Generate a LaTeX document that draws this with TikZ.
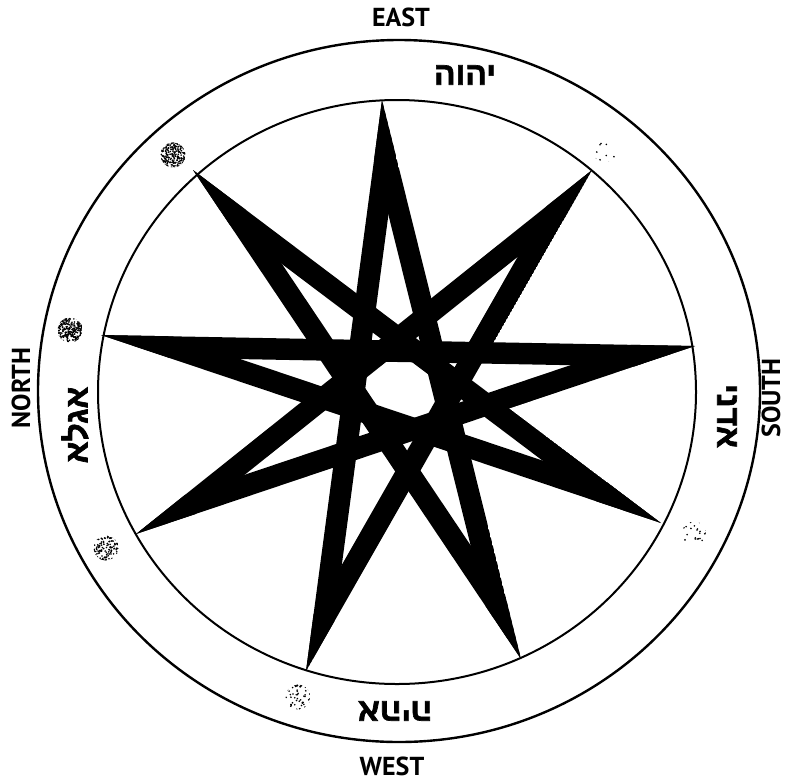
\documentclass[tikz,border=0pt]{standalone}
\usepackage{fontspec}
\setmainfont{PT Sans}
\newfontfamily\hebfont[Script=Hebrew,FakeBold=2]{Liberation Sans Bold}
\TeXXeTstate=1
\usetikzlibrary{calc}
\begin{document}
\begin{tikzpicture}[x=1pt,y=-1pt,
  lab/.style={font=\bfseries\fontsize{26}{26}\selectfont, inner sep=0pt},
  heb/.style={font=\hebfont\fontsize{32}{32}\selectfont, inner sep=0pt},
  ring/.style={draw=black, line width=2.4pt},
  band/.style={fill=black}]
\useasboundingbox (0,0) rectangle (786,782);
% star points
\coordinate (p0) at (382,100);
\coordinate (p1) at (592,170);
\coordinate (p2) at (695,346);
\coordinate (p3) at (661,523);
\coordinate (p4) at (521,659);
\coordinate (p5) at (306,671);
\coordinate (p6) at (136,534);
\coordinate (p7) at (101,335);
\coordinate (p8) at (193,170);
% rings
\draw[ring] (399,391) ellipse [x radius=361pt, y radius=351pt];
\draw[ring, line width=2pt] (397,392) ellipse [x radius=299pt, y radius=292pt];
% star bands
\begin{scope}
  \clip (p0) -- (p4) -- (p8) -- (p3) -- (p7) -- (p2) -- (p6) -- (p1) -- (p5) -- cycle;
  \foreach \a/\b in {0/4,1/5,2/6,3/7,4/8,5/0,6/1,7/2,8/3}{
    \fill[band] (p\a) -- (p\b) -- ($(p\b)!21.5pt!90:(p\a)$) -- ($(p\a)!21.5pt!-90:(p\b)$) -- cycle;
  }
\end{scope}
% speckled dots
\pgfmathsetseed{7}
\foreach \cx/\cy/\n in {173/155/260, 70/330/260, 106/548/130, 298/697/60, 694/534/24, 605/150/9}{
  \begin{scope}
    \clip (\cx,\cy) circle (12.5pt);
    \foreach \k in {1,...,\n}{
      \fill[black] ($(\cx,\cy)+(rand*12.5,rand*12.5)$) circle (0.9pt);
    }
  \end{scope}
}
% labels
\node[lab] (east) at (401,17) {EAST};
\node[lab] (west) at (392,766) {WEST};
\node[lab, rotate=90] (north) at (21,388) {NORTH};
\node[lab, rotate=90] (south) at (771,398) {SOUTH};
% hebrew names
\node[heb] (yhvh) at (465,75) {\beginR יהוה\endR};
\node[heb, rotate=180] (ehyh) at (395,711) {\beginR אהיה\endR};
\node[heb, rotate=-90] (adni) at (727,416) {\beginR אדני\endR};
\node[heb, rotate=90] (agla) at (75,425) {\beginR אגלא\endR};
\end{tikzpicture}
\end{document}
